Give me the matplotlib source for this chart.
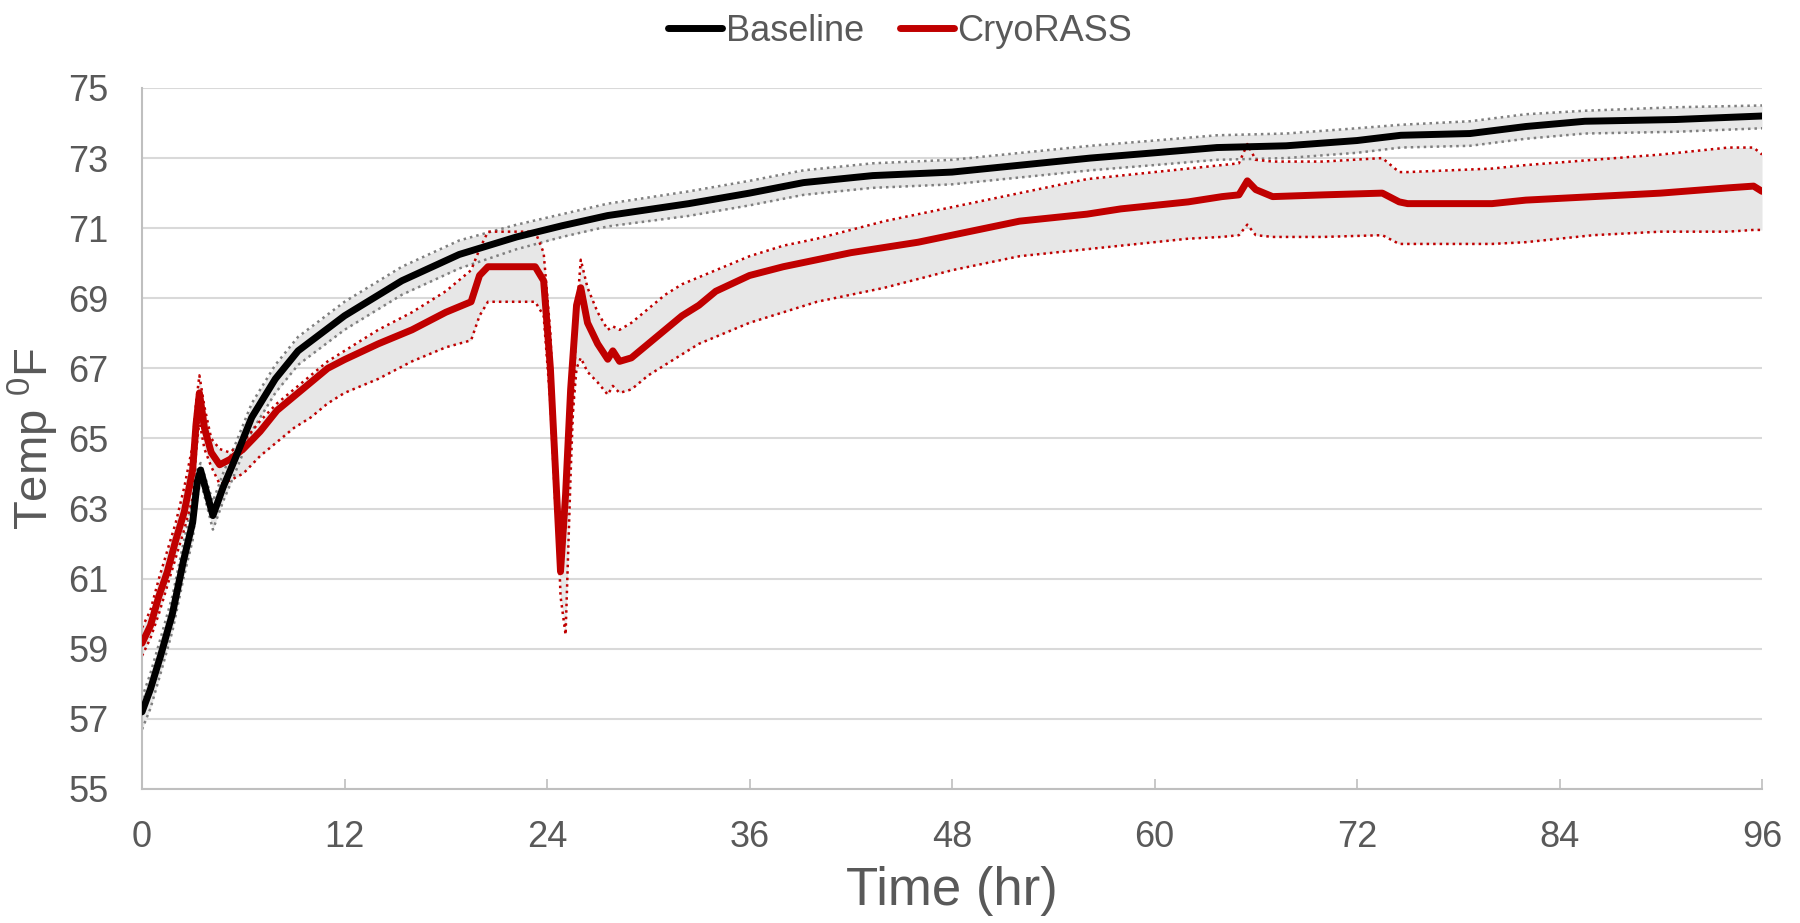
import numpy as np
import matplotlib.pyplot as plt

plt.rcParams['font.family'] = ['Liberation Sans', 'DejaVu Sans']
plt.rcParams['mathtext.fontset'] = 'custom'
plt.rcParams['mathtext.rm'] = 'Liberation Sans'

# Baseline: time (hr), mean, upper and lower envelope (deg F)
base_t = [0, 0.5, 1.1, 1.8, 2.45, 3.0, 3.27, 3.47, 4.2, 4.8, 5.5, 6.5, 7.9, 9.25,
          12, 15.4, 18.8, 22.2, 24.9, 27.6, 32.4, 36, 39.2, 43.3, 48, 52.1, 56.2,
          60, 63.7, 67.8, 72, 74.6, 78.7, 82, 85.5, 90.9, 96]
base_mean = [57.2, 57.85, 58.8, 60.0, 61.5, 62.6, 63.75, 64.1, 62.8, 63.6, 64.4, 65.6,
             66.7, 67.5, 68.5, 69.5, 70.25, 70.75, 71.07, 71.36, 71.7, 72.0, 72.3,
             72.5, 72.6, 72.8, 73.0, 73.15, 73.3, 73.35, 73.5, 73.65, 73.7, 73.9,
             74.05, 74.1, 74.2]
base_upper = [57.6, 58.3, 59.3, 60.5, 62.0, 63.2, 64.1, 64.3, 63.2, 64.0, 64.8, 66.0,
              67.1, 67.9, 68.9, 69.9, 70.65, 71.1, 71.4, 71.7, 72.05, 72.35, 72.65,
              72.85, 72.95, 73.15, 73.35, 73.5, 73.65, 73.7, 73.85, 73.95, 74.05,
              74.25, 74.35, 74.45, 74.5]
base_lower = [56.7, 57.3, 58.3, 59.5, 61.0, 62.1, 63.3, 63.8, 62.4, 63.2, 64.0, 65.2,
              66.3, 67.1, 68.1, 69.1, 69.85, 70.4, 70.75, 71.05, 71.35, 71.65, 71.95,
              72.15, 72.25, 72.45, 72.65, 72.8, 72.95, 73.0, 73.15, 73.3, 73.35,
              73.55, 73.7, 73.75, 73.85]

# CryoRASS: time (hr), mean, upper and lower envelope (deg F)
cryo_t = [0, 0.5, 1, 1.5, 2, 2.5, 3, 3.2, 3.4, 3.7, 4.1, 4.6, 5.2, 6, 7, 8, 9, 10, 11,
          12, 14, 16, 18, 19.5, 20, 20.5, 23.3, 23.8, 24.2, 24.5, 24.8, 25.1, 25.4,
          25.75, 26, 26.4, 27, 27.6, 27.9, 28.3, 29, 30, 31, 32, 33, 34, 36, 38, 40,
          42, 44, 46, 48, 50, 52, 54, 56, 58, 60, 62, 64, 65, 65.5, 66, 67, 70, 73.5,
          74.5, 75, 80, 82, 86, 90, 94, 95.5, 96]
cryo_mean = [59.16, 59.66, 60.5, 61.2, 62.1, 62.9, 64.1, 65.4, 66.3, 65.3, 64.6, 64.25,
             64.4, 64.7, 65.2, 65.8, 66.2, 66.6, 67.0, 67.25, 67.7, 68.1, 68.6, 68.9,
             69.65, 69.9, 69.9, 69.5, 67.0, 64.1, 61.2, 63.4, 66.4, 68.8, 69.3, 68.3,
             67.7, 67.26, 67.5, 67.2, 67.3, 67.7, 68.1, 68.5, 68.8, 69.2, 69.65, 69.9,
             70.1, 70.3, 70.45, 70.6, 70.8, 71.0, 71.2, 71.3, 71.4, 71.55, 71.65, 71.75,
             71.9, 71.95, 72.35, 72.1, 71.9, 71.95, 72.0, 71.75, 71.7, 71.7, 71.8, 71.9,
             72.0, 72.15, 72.2, 72.05]
cryo_upper = [59.6, 60.1, 61.0, 61.8, 62.6, 63.6, 64.8, 66.0, 66.8, 65.9, 65.0, 64.7,
              64.6, 64.9, 65.5, 66.0, 66.4, 66.8, 67.2, 67.5, 68.1, 68.6, 69.2, 69.8,
              70.4, 70.9, 70.9, 70.3, 68.0, 64.5, 60.5, 59.4, 64.0, 68.5, 70.1, 69.3,
              68.6, 68.1, 68.2, 68.1, 68.3, 68.7, 69.1, 69.4, 69.6, 69.8, 70.2, 70.5,
              70.7, 70.95, 71.2, 71.4, 71.6, 71.8, 72.0, 72.2, 72.4, 72.5, 72.6, 72.7,
              72.8, 72.85, 73.4, 72.95, 72.9, 72.9, 73.0, 72.6, 72.6, 72.7, 72.8, 72.95,
              73.1, 73.3, 73.3, 73.1]
cryo_lower = [58.8, 59.3, 60.0, 60.8, 61.6, 62.4, 63.3, 64.6, 65.5, 64.7, 64.2, 63.7,
              63.8, 64.0, 64.5, 64.9, 65.3, 65.6, 66.0, 66.3, 66.7, 67.2, 67.6, 67.8,
              68.5, 68.9, 68.9, 68.5, 66.0, 63.0, 61.5, 62.5, 65.0, 67.0, 67.3, 66.9,
              66.6, 66.25, 66.5, 66.3, 66.4, 66.8, 67.1, 67.4, 67.7, 67.9, 68.3, 68.6,
              68.9, 69.1, 69.3, 69.55, 69.8, 70.0, 70.2, 70.3, 70.4, 70.5, 70.6, 70.7,
              70.75, 70.8, 71.1, 70.8, 70.75, 70.75, 70.8, 70.55, 70.55, 70.55, 70.6,
              70.8, 70.9, 70.9, 70.95, 70.95]

x_ticks = [0, 12, 24, 36, 48, 60, 72, 84, 96]
y_ticks = [55, 57, 59, 61, 63, 65, 67, 69, 71, 73, 75]

text_col = '#595959'
band_col = '#e7e7e7'

fig = plt.figure(figsize=(18, 9.23), dpi=100)
ax = fig.add_axes([0.0789, 0.1452, 0.9, 0.7595])

ax.fill_between(base_t, base_lower, base_upper, color=band_col, lw=0, zorder=1)
ax.fill_between(cryo_t, cryo_lower, cryo_upper, color=band_col, lw=0, zorder=1)

dot = dict(ls=(0, (1, 1.6)), lw=1.8, zorder=2)
ax.plot(base_t, base_upper, color='#7f7f7f', **dot)
ax.plot(base_t, base_lower, color='#7f7f7f', **dot)
ax.plot(cryo_t, cryo_upper, color='#c00000', **dot)
ax.plot(cryo_t, cryo_lower, color='#c00000', **dot)

ax.plot(cryo_t, cryo_mean, color='#c00000', lw=5, solid_capstyle='round',
        solid_joinstyle='round', zorder=3, label='CryoRASS')
ax.plot(base_t, base_mean, color='black', lw=5, solid_capstyle='round',
        solid_joinstyle='round', zorder=4, label='Baseline')

ax.set_xlim(0, 96)
ax.set_ylim(55, 75)
ax.set_xticks(x_ticks)
ax.set_yticks(y_ticks)
ax.grid(axis='y', color='#d9d9d9', lw=1.5, zorder=0)
ax.set_axisbelow(True)
for s in ['top', 'right']:
    ax.spines[s].set_visible(False)
for s in ['left', 'bottom']:
    ax.spines[s].set_color('#bfbfbf')
    ax.spines[s].set_linewidth(1.5)
ax.tick_params(axis='y', length=0, labelsize=26, labelcolor=text_col, pad=24)
ax.tick_params(axis='x', direction='in', length=7, width=1.2, color='#bfbfbf',
               labelsize=26, labelcolor=text_col, pad=22)

ax.set_xlabel('Time (hr)', fontsize=38, color=text_col, labelpad=8)
ax.set_ylabel(r'Temp $\mathregular{^0}$F', fontsize=34, color=text_col, labelpad=5)

handles, labels = ax.get_legend_handles_labels()
fig.legend(handles[::-1], labels[::-1], loc='center', bbox_to_anchor=(0.5, 0.966),
           ncol=2, frameon=False, fontsize=26, handlelength=1.5, handletextpad=0.1,
           columnspacing=1.0, labelcolor=text_col)

fig.savefig('out.png', dpi=100)
